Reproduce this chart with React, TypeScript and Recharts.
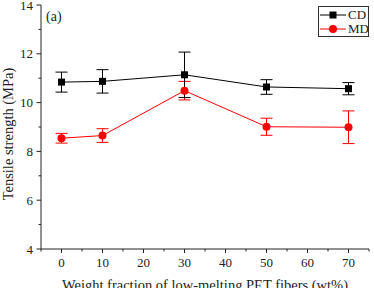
import React from 'react';
import { LineChart, Line, XAxis, YAxis, ErrorBar } from 'recharts';

const fractions = [0, 10, 30, 50, 70];
const cdStrength = [10.84, 10.87, 11.14, 10.64, 10.57];
const cdError = [0.41, 0.48, 0.93, 0.3, 0.25];
const mdStrength = [8.54, 8.65, 10.49, 9.01, 8.99];
const mdError = [0.2, 0.28, 0.38, 0.35, 0.67];

const xTicks = [-5, 0, 5, 10, 15, 20, 25, 30, 35, 40, 45, 50, 55, 60, 65, 70, 75];
const xLabeledTicks = [0, 10, 20, 30, 40, 50, 60, 70];
const yTicks = [4, 5, 6, 7, 8, 9, 10, 11, 12, 13, 14];
const yLabeledTicks = [4, 6, 8, 10, 12, 14];

const seriesNames = ['CD', 'MD'];
const seriesColors = ['#000000', '#ff0000'];

const data = fractions.map((f, i) => ({
  x: f,
  cd: cdStrength[i],
  cdErr: cdError[i],
  md: mdStrength[i],
  mdErr: mdError[i],
}));

const FONT = '"Liberation Serif", "Times New Roman", serif';
const AXIS = '#222';

const XTick = (props: any) => {
  const { x, y, payload } = props;
  const major = xLabeledTicks.includes(payload.value);
  return (
    <g>
      <line x1={x} y1={y} x2={x} y2={y + (major ? 4 : 2.5)} stroke={AXIS} strokeWidth={1} />
      {major && (
        <text x={x} y={y + 13} textAnchor="middle" dominantBaseline="central" fontFamily={FONT} fontSize={13} fill="#222">
          {payload.value}
        </text>
      )}
    </g>
  );
};

const YTick = (props: any) => {
  const { x, y, payload } = props;
  const major = yLabeledTicks.includes(payload.value);
  return (
    <g>
      <line x1={x} y1={y} x2={x - (major ? 4.5 : 2.5)} y2={y} stroke={AXIS} strokeWidth={1} />
      {major && (
        <text x={x - 8} y={y} textAnchor="end" dominantBaseline="central" fontFamily={FONT} fontSize={13} fill="#222">
          {payload.value}
        </text>
      )}
    </g>
  );
};

const YLabel = (props: any) => {
  const vb = props.viewBox || { x: 0, y: 5, width: 41, height: 244 };
  const cx = vb.x + 7.5;
  const cy = vb.y + vb.height / 2 + 7;
  return (
    <text x={cx} y={cy} transform={`rotate(-90 ${cx} ${cy})`} textAnchor="middle" dominantBaseline="central" fontFamily={FONT} fontSize={14.5} fill="#222">
      Tensile strength (MPa)
    </text>
  );
};

const XLabel = (props: any) => {
  const vb = props.viewBox || { x: 41, y: 249, width: 328, height: 39 };
  return (
    <text x={vb.x + vb.width / 2} y={vb.y + 41} textAnchor="middle" fontFamily={FONT} fontSize={14.5} fill="#222">
      Weight fraction of low-melting PET fibers (wt%)
    </text>
  );
};

const SquareDot = (props: any) => {
  const { cx, cy, index } = props;
  return <rect key={`sq-${index}`} x={cx - 3.5} y={cy - 3.5} width={7} height={7} fill="#000" />;
};

const CircleDot = (props: any) => {
  const { cx, cy, index } = props;
  return <circle key={`ci-${index}`} cx={cx} cy={cy} r={4} fill="#ff0000" />;
};

const LegendBox = () => (
  <div
    style={{
      position: 'absolute',
      left: 318,
      top: 6,
      width: 49,
      height: 29,
      border: '1px solid #333',
      background: '#fff',
      fontFamily: FONT,
      fontSize: 13,
      color: '#222',
    }}
  >
    {seriesNames.map((name, i) => (
      <div key={name} style={{ position: 'absolute', left: 0, top: i === 0 ? 1 : 15, height: 14, display: 'flex', alignItems: 'center' }}>
        <svg width={28} height={14} style={{ display: 'block' }}>
          <line x1={1} y1={7} x2={27} y2={7} stroke={seriesColors[i]} strokeWidth={1} />
          {i === 0 ? (
            <rect x={10.5} y={3.5} width={7} height={7} fill="#000" />
          ) : (
            <circle cx={14} cy={7} r={4} fill="#ff0000" />
          )}
        </svg>
        <span style={{ marginLeft: 1, lineHeight: '14px' }}>{name}</span>
      </div>
    ))}
  </div>
);

export default function App() {
  return (
    <div style={{ position: 'absolute', left: 0, top: 0, width: 374, height: 288, background: '#fff' }}>
      <LineChart width={374} height={288} data={data} margin={{ top: 5, right: 5, bottom: 0, left: 0 }}>
        <XAxis
          dataKey="x"
          type="number"
          domain={[-5, 75]}
          ticks={xTicks}
          interval={0}
          height={39}
          tickSize={0}
          tickMargin={0}
          tickLine={false}
          tick={<XTick />}
          axisLine={{ stroke: AXIS, strokeWidth: 1 }}
          label={<XLabel />}
        />
        <XAxis
          xAxisId="top"
          orientation="top"
          type="number"
          domain={[-5, 75]}
          ticks={xTicks}
          interval={0}
          height={0}
          mirror
          tickSize={2.5}
          tick={false}
          tickLine={{ stroke: AXIS }}
          axisLine={{ stroke: AXIS, strokeWidth: 1 }}
        />
        <YAxis
          type="number"
          domain={[4, 14]}
          ticks={yTicks}
          interval={0}
          width={41}
          tickSize={0}
          tickMargin={0}
          tickLine={false}
          tick={<YTick />}
          axisLine={{ stroke: AXIS, strokeWidth: 1 }}
          label={<YLabel />}
        />
        <YAxis
          yAxisId="right"
          orientation="right"
          type="number"
          domain={[4, 14]}
          ticks={yTicks}
          interval={0}
          width={0}
          mirror
          tickSize={2.5}
          tick={false}
          tickLine={{ stroke: AXIS }}
          axisLine={{ stroke: AXIS, strokeWidth: 1 }}
        />
        <Line
          type="linear"
          dataKey="md"
          name="MD"
          stroke="#ff0000"
          strokeWidth={1}
          dot={CircleDot}
          activeDot={false}
          isAnimationActive={false}
        >
          <ErrorBar dataKey="mdErr" width={6} stroke="#ff0000" strokeWidth={1} direction="y" isAnimationActive={false} />
        </Line>
        <Line
          type="linear"
          dataKey="cd"
          name="CD"
          stroke="#000000"
          strokeWidth={1}
          dot={SquareDot}
          activeDot={false}
          isAnimationActive={false}
        >
          <ErrorBar dataKey="cdErr" width={6} stroke="#000000" strokeWidth={1} direction="y" isAnimationActive={false} />
        </Line>
      </LineChart>
      <div style={{ position: 'absolute', left: 46, top: 9, fontFamily: FONT, fontSize: 14, color: '#222', lineHeight: '16px' }}>(a)</div>
      <LegendBox />
    </div>
  );
}
